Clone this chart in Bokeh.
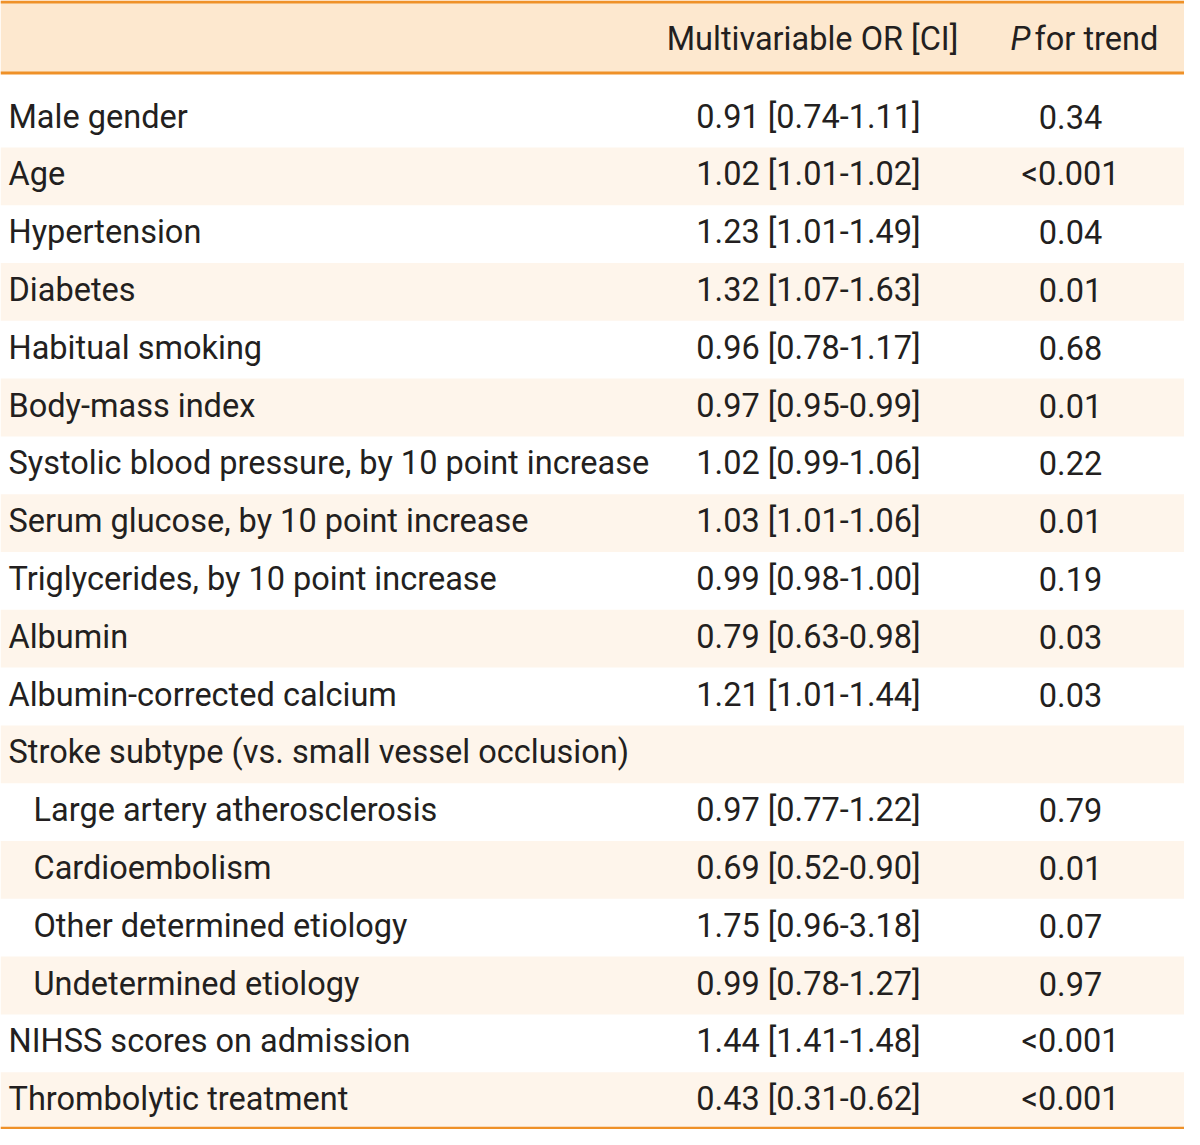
from bokeh.plotting import figure
from bokeh.models import Range1d
from bokeh.core.properties import value
from bokeh.embed import file_html
from bokeh.resources import INLINE

# ---------------- data ----------------
labels = [
    "Male gender",
    "Age",
    "Hypertension",
    "Diabetes",
    "Habitual smoking",
    "Body-mass index",
    "Systolic blood pressure, by 10 point increase",
    "Serum glucose, by 10 point increase",
    "Triglycerides, by 10 point increase",
    "Albumin",
    "Albumin-corrected calcium",
    "Stroke subtype (vs. small vessel occlusion)",
    "Large artery atherosclerosis",
    "Cardioembolism",
    "Other determined etiology",
    "Undetermined etiology",
    "NIHSS scores on admission",
    "Thrombolytic treatment",
]
sub_rows = [
    "Large artery atherosclerosis",
    "Cardioembolism",
    "Other determined etiology",
    "Undetermined etiology",
]
or_vals = [0.91, 1.02, 1.23, 1.32, 0.96, 0.97, 1.02, 1.03, 0.99, 0.79, 1.21, None,
           0.97, 0.69, 1.75, 0.99, 1.44, 0.43]
ci_lo = [0.74, 1.01, 1.01, 1.07, 0.78, 0.95, 0.99, 1.01, 0.98, 0.63, 1.01, None,
         0.77, 0.52, 0.96, 0.78, 1.41, 0.31]
ci_hi = [1.11, 1.02, 1.49, 1.63, 1.17, 0.99, 1.06, 1.06, 1.00, 0.98, 1.44, None,
         1.22, 0.90, 3.18, 1.27, 1.48, 0.62]
p_trend = ["0.34", "<0.001", "0.04", "0.01", "0.68", "0.01", "0.22", "0.01", "0.19",
           "0.03", "0.03", "", "0.79", "0.01", "0.07", "0.97", "<0.001", "<0.001"]
header_or = "Multivariable OR [CI]"
header_p_italic = "P"
header_p_rest = "for trend"

# ---------------- layout / style ----------------
FIG_W, FIG_H = 1184, 1129
FONT = "Roboto"
FS = "32.5px"
TXT = "#231f20"
HEAD_FILL = "#fde8cf"
STRIPE = "#fef5eb"
ORANGE = "#ef9128"

ROW0 = 116.0        # vertical centre of first body row
PITCH = 57.8        # row pitch
HEAD_Y = 38.0       # header text centre
HEAD_LINE = 72.5
BOTTOM_LINE = FIG_H - 1.5

p = figure(width=FIG_W, height=FIG_H, output_backend="svg", toolbar_location=None,
           x_range=Range1d(0, FIG_W), y_range=Range1d(FIG_H, 0),
           min_border=0, tools="")
p.axis.visible = False
p.grid.visible = False
p.outline_line_color = None
p.background_fill_color = "white"
p.border_fill_color = "white"

n = len(labels)
centers = [ROW0 + i * PITCH for i in range(n)]

# header band
p.quad(left=[0], right=[FIG_W], top=[0], bottom=[HEAD_LINE], fill_color=HEAD_FILL,
       line_color=None)

# stripes on odd rows
tops, bots = [], []
for i in range(n):
    if i % 2 == 1:
        t = centers[i] - PITCH / 2 + 2
        b = centers[i] + PITCH / 2 + 2
        if i == n - 1:
            b = BOTTOM_LINE
        tops.append(t)
        bots.append(b)
p.quad(left=[0] * len(tops), right=[FIG_W] * len(tops), top=tops, bottom=bots,
       fill_color=STRIPE, line_color=None)

# rules
p.segment(x0=[0, 0], x1=[FIG_W, FIG_W], y0=[1.5, HEAD_LINE], y1=[1.5, HEAD_LINE],
          line_color=ORANGE, line_width=3)
p.segment(x0=[0], x1=[FIG_W], y0=[BOTTOM_LINE], y1=[BOTTOM_LINE],
          line_color=ORANGE, line_width=2.5)

common = dict(text_font=value(FONT), text_font_size=FS, text_color=TXT,
              text_baseline="middle")

# labels
lx = [33 if lab in sub_rows else 8 for lab in labels]
p.text(x=lx, y=centers, text=labels, text_align="left", **common)

# OR [CI]
or_txt = []
for o, lo, hi in zip(or_vals, ci_lo, ci_hi):
    or_txt.append("" if o is None else "%.2f [%.2f-%.2f]" % (o, lo, hi))
p.text(x=[808] * n, y=centers, text=or_txt, text_align="center", **common)

# P for trend
p.text(x=[1070] * n, y=centers, text=p_trend, text_align="center", **common)

# headers
p.text(x=[812], y=[HEAD_Y], text=[header_or], text_align="center", **common)
p.text(x=[1010], y=[HEAD_Y], text=[header_p_italic], text_align="left",
       text_font_style="italic", **common)
p.text(x=[1034], y=[HEAD_Y], text=[header_p_rest], text_align="left", **common)

open("out.html", "w").write(file_html(p, INLINE))
